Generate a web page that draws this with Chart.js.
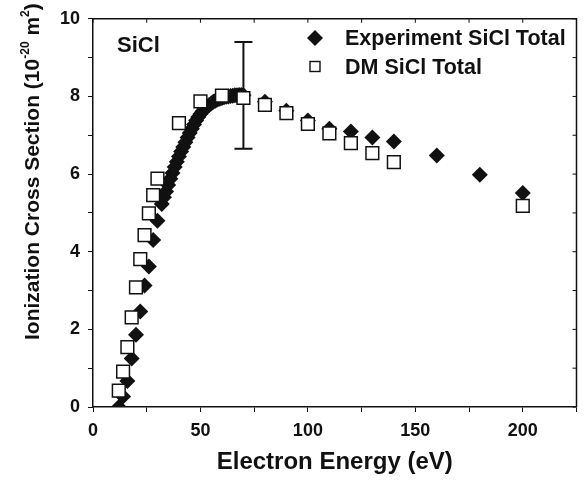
<!DOCTYPE html>
<html>
<head>
<meta charset="utf-8">
<script src="https://cdn.jsdelivr.net/npm/chart.js@4.4.0/dist/chart.umd.min.js"></script>
<style>
  html, body { margin: 0; padding: 0; background: #fff; }
</style>
</head>
<body>
<canvas id="sicl" width="587" height="480"></canvas>
<script>
// experiment (filled diamonds)
const expEnergy = [12, 14, 16, 18, 20, 22, 24, 26, 28, 30, 32,
    33, 34, 35, 36, 37, 38, 39, 40, 41, 42, 43, 44, 45, 46, 47, 48, 49, 50,
    51, 52, 53, 54, 55, 56, 57, 58, 59, 60, 61, 62, 63, 64, 65, 66, 67, 68, 69, 70,
    80, 90, 100, 110, 120, 130, 140, 160, 180, 200];
const expSigma = [0, 0.27, 0.67, 1.25, 1.86, 2.46, 3.13, 3.62, 4.30, 4.80, 5.23,
    5.40, 5.55, 5.72, 5.88, 6.03, 6.18, 6.32, 6.45, 6.58, 6.70, 6.82, 6.94, 7.06, 7.17, 7.28, 7.38, 7.47, 7.55,
    7.62, 7.68, 7.73, 7.78, 7.82, 7.86, 7.89, 7.92, 7.94, 7.96, 7.98, 7.99, 8.00, 8.01, 8.02, 8.03, 8.03, 8.04, 8.04, 8.03,
    7.86, 7.63, 7.38, 7.17, 7.10, 6.94, 6.84, 6.48, 5.98, 5.51];

// DM model (open squares)
const dmEnergy = [12, 14, 16, 18, 20, 22, 24, 26, 28, 30, 40, 50, 60, 70,
    80, 90, 100, 110, 120, 130, 140, 200];
const dmSigma = [0.42, 0.91, 1.54, 2.31, 3.08, 3.81, 4.43, 4.99, 5.46, 5.88, 7.31, 7.87, 8.02, 7.96,
    7.78, 7.57, 7.29, 7.05, 6.80, 6.54, 6.31, 5.18];

// error bar on the experiment
const errEnergy = [70];
const errLow = [6.65];
const errHigh = [9.40];

const xTicks = [0, 50, 100, 150, 200];
const yTicks = [0, 2, 4, 6, 8, 10];

const ink = '#111';
const fam = '"Liberation Sans", Arial, sans-serif';

function toPoints(xs, ys) {
    return xs.map((x, i) => ({x: x, y: ys[i]}));
}

// error bar, drawn behind the markers
const errorBars = {
    id: 'errorBars',
    beforeDatasetsDraw(chart) {
        const {ctx, scales: {x, y}} = chart;
        ctx.save();
        ctx.strokeStyle = ink;
        ctx.lineWidth = 2;
        errEnergy.forEach((e, i) => {
            const px = x.getPixelForValue(e);
            const top = y.getPixelForValue(errHigh[i]);
            const bot = y.getPixelForValue(errLow[i]);
            ctx.beginPath();
            ctx.moveTo(px, top); ctx.lineTo(px, bot);
            ctx.moveTo(px - 9, top); ctx.lineTo(px + 9, top);
            ctx.moveTo(px - 9, bot); ctx.lineTo(px + 9, bot);
            ctx.stroke();
        });
        ctx.restore();
    }
};

// top / right frame, y title with superscripts, legend and label
const extras = {
    id: 'extras',
    afterDraw(chart) {
        const {ctx, chartArea: a, scales: {x, y}} = chart;
        ctx.save();
        ctx.strokeStyle = ink;
        ctx.lineWidth = 1.5;
        ctx.beginPath();
        ctx.moveTo(a.left, a.top); ctx.lineTo(a.right, a.top); ctx.lineTo(a.right, a.bottom);
        ctx.stroke();
        ctx.lineWidth = 1;
        ctx.beginPath();
        x.ticks.forEach(t => {
            const px = x.getPixelForValue(t.value);
            ctx.moveTo(px, a.top); ctx.lineTo(px, a.top + 4);
        });
        y.ticks.forEach(t => {
            const py = y.getPixelForValue(t.value);
            ctx.moveTo(a.right, py); ctx.lineTo(a.right - 4, py);
        });
        ctx.stroke();

        // y axis title
        ctx.fillStyle = ink;
        ctx.translate(33, 340);
        ctx.rotate(-Math.PI / 2);
        ctx.textBaseline = 'middle';
        ctx.textAlign = 'left';
        const big = 'bold 21px ' + fam;
        const small = 'bold 12px ' + fam;
        const parts = [['Ionization Cross Section (10', big, 0], ['-20', small, -7],
            [' m', big, 0], ['2', small, -7], [')', big, 0]];
        let cx = 0;
        parts.forEach(([s, f, dy]) => {
            ctx.font = f;
            ctx.fillText(s, cx, dy);
            cx += ctx.measureText(s).width;
        });
        ctx.restore();

        // legend
        ctx.save();
        ctx.fillStyle = ink;
        ctx.strokeStyle = ink;
        ctx.font = 'bold 21.5px ' + fam;
        ctx.textBaseline = 'middle';
        const d = chart.data.datasets;
        ctx.beginPath();
        ctx.moveTo(315, 30); ctx.lineTo(323, 38); ctx.lineTo(315, 46); ctx.lineTo(307, 38);
        ctx.closePath();
        ctx.fill();
        ctx.fillText(d[0].label, 345, 39);
        ctx.lineWidth = 1.4;
        ctx.strokeRect(310, 61.5, 10, 10);
        ctx.fillText(d[1].label, 345, 68);

        ctx.font = 'bold 22px ' + fam;
        ctx.fillText('SiCl', 117, 46);
        ctx.restore();
    }
};

new Chart(document.getElementById('sicl'), {
    type: 'scatter',
    data: {
        datasets: [{
            label: 'Experiment SiCl Total',
            data: toPoints(expEnergy, expSigma),
            pointStyle: 'rectRot',
            pointRadius: 8,
            backgroundColor: ink,
            borderColor: ink,
            borderWidth: 0,
            order: 1
        }, {
            label: 'DM SiCl Total',
            data: toPoints(dmEnergy, dmSigma),
            pointStyle: 'rect',
            pointRadius: 9,
            backgroundColor: '#fff',
            borderColor: ink,
            borderWidth: 1.5,
            order: 0
        }]
    },
    options: {
        responsive: false,
        animation: false,
        layout: {
            padding: {top: 18, right: 10, left: 0, bottom: 0}
        },
        plugins: {
            legend: {display: false},
            tooltip: {enabled: false}
        },
        scales: {
            x: {
                type: 'linear',
                min: 0,
                max: 225,
                afterFit(scale) { scale.height = 73; },
                ticks: {
                    stepSize: 25,
                    padding: 8,
                    color: ink,
                    font: {family: fam, size: 18, weight: 'bold'},
                    callback: v => xTicks.includes(v) ? v : ''
                },
                grid: {
                    drawOnChartArea: false,
                    drawTicks: true,
                    tickLength: 5,
                    color: ink,
                    lineWidth: 1
                },
                border: {display: true, color: ink, width: 1.5},
                title: {
                    display: true,
                    text: 'Electron Energy (eV)',
                    color: ink,
                    font: {family: fam, size: 24, weight: 'bold'},
                    padding: {top: 0, bottom: 3}
                }
            },
            y: {
                type: 'linear',
                min: 0,
                max: 10,
                afterFit(scale) { scale.width = 93; },
                ticks: {
                    stepSize: 1,
                    padding: 8,
                    color: ink,
                    font: {family: fam, size: 18, weight: 'bold'},
                    callback: v => yTicks.includes(v) ? v : ''
                },
                grid: {
                    drawOnChartArea: false,
                    drawTicks: true,
                    tickLength: 5,
                    color: ink,
                    lineWidth: 1
                },
                border: {display: true, color: ink, width: 1.5}
            }
        }
    },
    plugins: [errorBars, extras]
});
</script>
</body>
</html>
